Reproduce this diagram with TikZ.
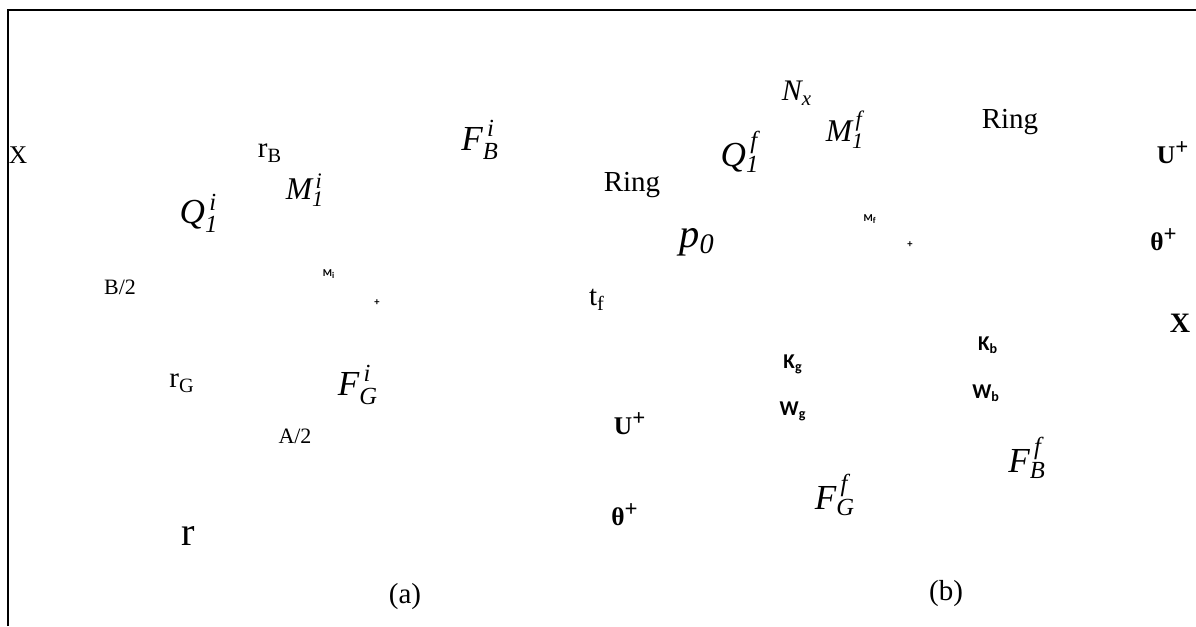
\documentclass[tikz,border=0pt]{standalone}
\usepackage{fontspec}
\setmainfont{Liberation Serif}
\newfontfamily\calib{Carlito}
\usetikzlibrary{positioning}

% italic symbol with stacked scripts
\newcommand{\sym}[3]{$\mathit{#1}_{\mathit{#2}}^{\,\mathit{#3}}$}

\tikzset{
  lbl/.style={inner sep=0pt,font=\fontsize{16.5}{18}\selectfont},
  small/.style={inner sep=0pt,font=\fontsize{12.5}{14}\selectfont},
  mth/.style={inner sep=0pt,font=\fontsize{20}{22}\selectfont},
  bsans/.style={inner sep=0pt,font=\calib\bfseries\fontsize{12}{14}\selectfont},
  tiny/.style={inner sep=0pt,font=\calib\bfseries\fontsize{6}{7}\selectfont},
  bser/.style={inner sep=0pt,font=\bfseries\fontsize{14.5}{16}\selectfont}
}

\begin{document}
\begin{tikzpicture}[x=0.02cm,y=-0.02cm]
\useasboundingbox (0,0) rectangle (1196,626);
% frame
\draw[line width=0.8pt] (8,626)--(8,10)--(1196,10);

% (a) initial state
\node[lbl,font=\fontsize{14.5}{16}\selectfont] (xa) at (18,155) {X};
\node[lbl] (rb) at (270,153) {r\textsubscript{B}};
\node[mth] (fbi) at (480,140) {\sym{F}{B}{i}};
\node[mth] (qi) at (199,213) {\sym{Q}{1}{i}};
\node[mth,font=\fontsize{18}{20}\selectfont] (mi) at (305,190) {\sym{M}{1}{i}};
\node[small] (bhalf) at (120,287) {B/2};
\node[tiny] (mis) at (329,274) {M\textsubscript{i}};
\node[tiny] (ci) at (377,303) {+};
\node[lbl] (rg) at (182,383) {r\textsubscript{G}};
\node[mth] (fgi) at (358,385) {\sym{F}{G}{i}};
\node[small] (ahalf) at (295,436) {A/2};
\node[lbl,font=\fontsize{23}{25}\selectfont] (r) at (188,536) {r};
\node[lbl] (capa) at (405,597) {(a)};

% (b) final state
\node[lbl] (tf) at (597,300) {t\textsubscript{f}};
\node[lbl] (ringl) at (632,185) {Ring};
\node[mth,font=\fontsize{23}{25}\selectfont] (p0) at (697,242) {$\mathit{p}_{\mathit{0}}$};
\node[mth] (qf) at (740,152) {\sym{Q}{1}{f}};
\node[mth,font=\fontsize{17}{19}\selectfont] (nx) at (797,93) {$\mathit{N}_{\mathit{x}}$};
\node[mth,font=\fontsize{18}{20}\selectfont] (mf) at (845,130) {\sym{M}{1}{f}};
\node[lbl] (ringr) at (1010,122) {Ring};
\node[tiny] (mfs) at (870,219) {M\textsubscript{f}};
\node[tiny] (cf) at (910,245) {+};
\node[bser] (ur) at (1173,153) {U\textsuperscript{\fontsize{13}{14}\selectfont+}};
\node[bser] (thr) at (1164,240) {θ\textsuperscript{\fontsize{13}{14}\selectfont+}};
\node[bser,font=\bfseries\fontsize{16}{18}\selectfont] (xb) at (1180,323) {X};
\node[bsans] (kb) at (988,345) {K\textsubscript{b}};
\node[bsans] (wb) at (986,393) {W\textsubscript{b}};
\node[bsans] (kg) at (793,364) {K\textsubscript{g}};
\node[bsans] (wg) at (793,411) {W\textsubscript{g}};
\node[bser] (ul) at (630,424) {U\textsuperscript{\fontsize{13}{14}\selectfont+}};
\node[bser] (thl) at (625,515) {θ\textsuperscript{\fontsize{13}{14}\selectfont+}};
\node[mth] (fbf) at (1027,458) {\sym{F}{B}{f}};
\node[mth] (fgf) at (835,495) {\sym{F}{G}{f}};
\node[lbl] (capb) at (946,594) {(b)};
\end{tikzpicture}
\end{document}
